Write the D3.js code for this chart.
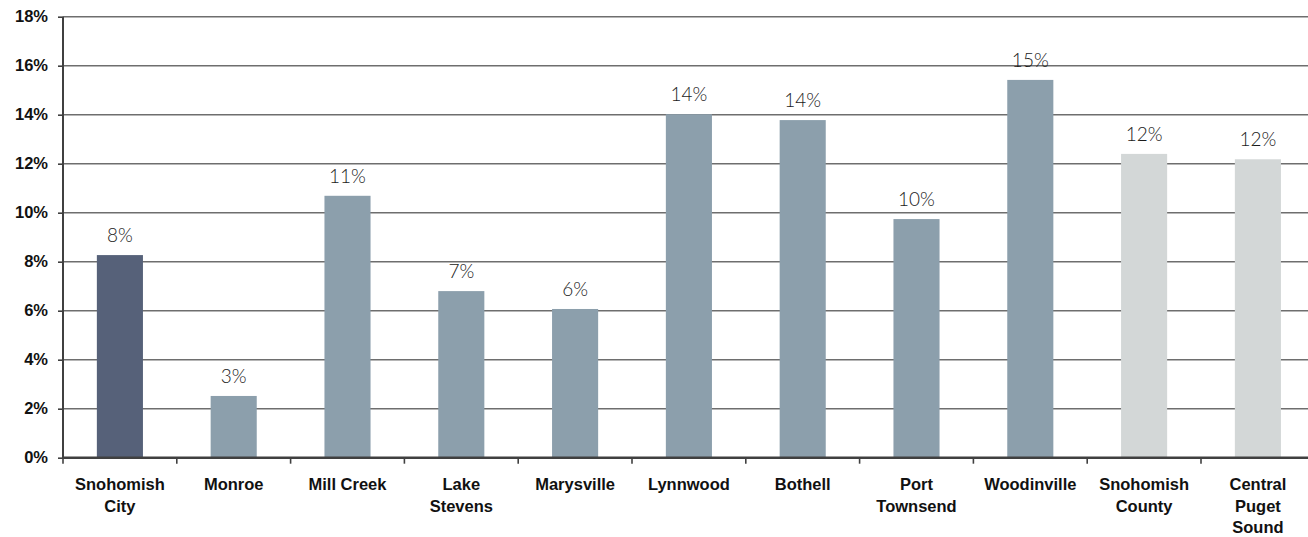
<!DOCTYPE html>
<html>
<head>
<meta charset="utf-8">
<script src="https://cdn.jsdelivr.net/npm/d3@7"></script>
<style>
  html, body { margin: 0; padding: 0; background: #ffffff; }
  svg { display: block; }
</style>
</head>
<body>
<svg id="chart" width="1308" height="537"></svg>
<script>
// Share of population (percent) by place
const categories = [
  "Snohomish City", "Monroe", "Mill Creek", "Lake Stevens", "Marysville",
  "Lynnwood", "Bothell", "Port Townsend", "Woodinville",
  "Snohomish County", "Central Puget Sound"
];
const categoryLines = [
  ["Snohomish", "City"], ["Monroe"], ["Mill Creek"], ["Lake", "Stevens"], ["Marysville"],
  ["Lynnwood"], ["Bothell"], ["Port", "Townsend"], ["Woodinville"],
  ["Snohomish", "County"], ["Central", "Puget", "Sound"]
];
const values = [8.27, 2.52, 10.69, 6.80, 6.07, 14.02, 13.78, 9.74, 15.42, 12.40, 12.18];
const groups = ["focus", "peer", "peer", "peer", "peer", "peer", "peer", "peer", "peer", "region", "region"];
const yTicks = [0, 2, 4, 6, 8, 10, 12, 14, 16, 18];

const colors = { focus: "#566179", peer: "#8c9fac", region: "#d3d7d7" };

const svg = d3.select("#chart");
const plotLeft = 63, plotTop = 16.7, plotBottom = 457.7, step = 113.8;
const plotRight = plotLeft + step * categories.length;

const x = d3.scaleBand()
  .domain(categories)
  .range([plotLeft, plotRight])
  .paddingInner(0.595)
  .paddingOuter(0.2975);

const y = d3.scaleLinear().domain([0, 18]).range([plotBottom, plotTop]);

// Horizontal gridlines
svg.append("g")
  .selectAll("line")
  .data(yTicks.filter(d => d > 0))
  .join("line")
  .attr("x1", plotLeft).attr("x2", 1308)
  .attr("y1", d => y(d)).attr("y2", d => y(d))
  .attr("stroke", "#6e6e6e")
  .attr("stroke-width", 1.6);

// Bars
svg.append("g")
  .selectAll("rect")
  .data(values)
  .join("rect")
  .attr("x", (d, i) => x(categories[i]))
  .attr("width", x.bandwidth())
  .attr("y", d => y(d))
  .attr("height", d => plotBottom - y(d))
  .attr("fill", (d, i) => colors[groups[i]]);

// Value labels
const fmt = d3.format(".0%");
svg.append("g")
  .selectAll("text")
  .data(values)
  .join("text")
  .attr("x", (d, i) => x(categories[i]) + x.bandwidth() / 2)
  .attr("y", d => y(d) - 13)
  .attr("text-anchor", "middle")
  .attr("font-family", "Lato, 'Open Sans', sans-serif")
  .attr("font-weight", 300)
  .attr("font-size", 19)
  .attr("fill", "#1a1a1a")
  .text(d => fmt(d / 100));

// Y axis
const yAxis = svg.append("g")
  .attr("transform", `translate(${plotLeft},0)`)
  .call(d3.axisLeft(y).tickValues(yTicks).tickSize(5).tickPadding(10).tickFormat(d => d + "%"));
yAxis.select(".domain").attr("stroke", "#404040").attr("stroke-width", 2)
  .attr("d", `M0,${plotTop}V${plotBottom}`);
yAxis.selectAll(".tick line").attr("stroke", "#404040").attr("stroke-width", 1.6);
yAxis.selectAll(".tick text")
  .attr("font-family", "'Liberation Sans', Arial, sans-serif")
  .attr("font-weight", "bold")
  .attr("font-size", 16.5)
  .attr("fill", "#111111");

// X axis baseline and boundary ticks
svg.append("line")
  .attr("x1", plotLeft - 1).attr("x2", 1308)
  .attr("y1", plotBottom).attr("y2", plotBottom)
  .attr("stroke", "#404040").attr("stroke-width", 2.4);

const boundaries = d3.range(categories.length + 1).map(i => plotLeft + i * x.step());
svg.append("g")
  .selectAll("line")
  .data(boundaries)
  .join("line")
  .attr("x1", d => d).attr("x2", d => d)
  .attr("y1", plotBottom).attr("y2", plotBottom + 6)
  .attr("stroke", "#404040").attr("stroke-width", 1.6);

// Category labels
const cat = svg.append("g")
  .attr("font-family", "'Liberation Sans', Arial, sans-serif")
  .attr("font-weight", "bold")
  .attr("font-size", 16.5)
  .attr("fill", "#111111")
  .attr("text-anchor", "middle");
cat.selectAll("text")
  .data(categories)
  .join("text")
  .attr("x", d => x(d) + x.bandwidth() / 2)
  .attr("y", 490)
  .each(function(d, i) {
    d3.select(this).selectAll("tspan")
      .data(categoryLines[i])
      .join("tspan")
      .attr("x", x(d) + x.bandwidth() / 2)
      .attr("dy", (t, j) => j === 0 ? 0 : 21.5)
      .text(t => t);
  });
</script>
</body>
</html>
